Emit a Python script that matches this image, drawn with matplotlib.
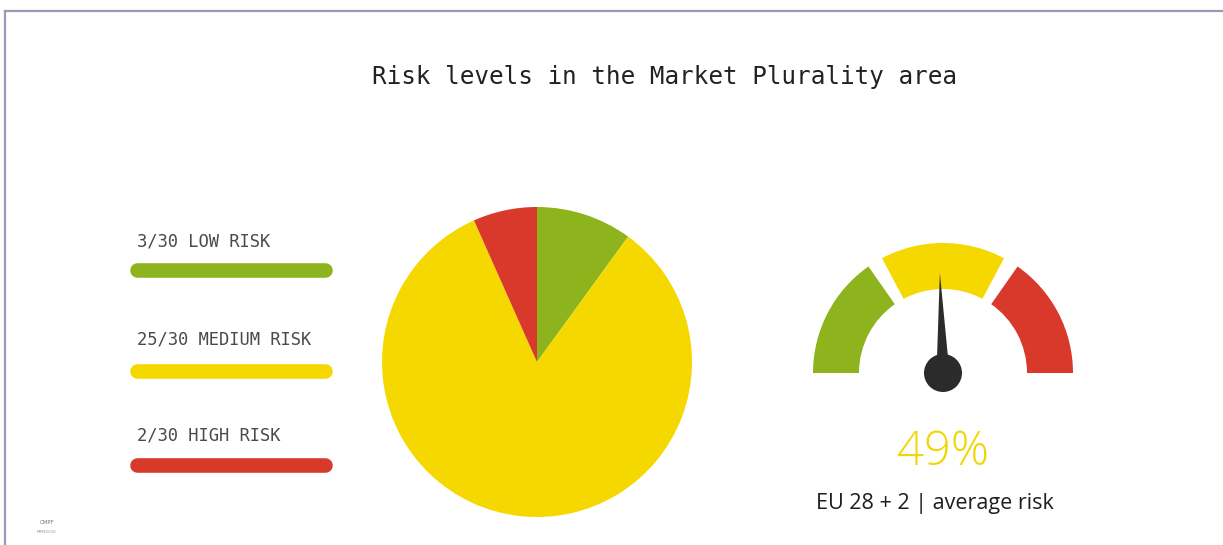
import matplotlib.pyplot as plt
from matplotlib.patches import Wedge, Circle, Polygon
import numpy as np

# risk distribution over the 30 indicators
categories = ["LOW RISK", "MEDIUM RISK", "HIGH RISK"]
counts = [3, 25, 2]
total = 30
colors = ["#8db41c", "#f5d800", "#d8392b"]

# gauge bands (degrees, 180 = left end) and average value
band_angles = [(125, 180), (62, 118), (0, 55)]
average_risk = 49

title = "Risk levels in the Market Plurality area"
subtitle = "EU 28 + 2 | average risk"

W, H = 1223, 545
fig = plt.figure(figsize=(W / 100, H / 100), dpi=100)
fig.patch.set_facecolor("white")

# base layer in pixel coordinates
ax = fig.add_axes([0, 0, 1, 1])
ax.set_xlim(0, W)
ax.set_ylim(H, 0)
ax.axis("off")

# frame lines
ax.plot([5, W], [11, 11], color="#959bb6", lw=1.6)
ax.plot([5, 5], [11, H], color="#959bb6", lw=1.6)

ax.text(664, 77, title, family="DejaVu Sans Mono", fontsize=17.5,
        color="#222222", ha="center", va="center")

# legend: label plus rounded bar for each category
label_y = [241, 340, 436]
bar_y = [270, 371, 465]
for cat, n, c, ly, by in zip(categories, counts, colors, label_y, bar_y):
    ax.text(137, ly, f"{n}/{total} {cat}", family="DejaVu Sans Mono",
            fontsize=12.3, color="#4a4a4a", ha="left", va="center")
    ax.plot([137, 325], [by, by], color=c, lw=10.5, solid_capstyle="round")

# small logo mark
ax.text(47, 522, "CMPF", fontsize=4, color="#777777", ha="center", va="center")
ax.text(47, 532, "MPM2016", fontsize=3, color="#999999", ha="center", va="center")

# pie
cx, cy, r = 537, 362, 155
pax = fig.add_axes([(cx - r) / W, (H - cy - r) / H, 2 * r / W, 2 * r / H])
pax.pie(counts, colors=colors, startangle=90, counterclock=False,
        wedgeprops=dict(linewidth=0))
pax.set_xlim(-1, 1)
pax.set_ylim(-1, 1)
pax.axis("off")

# gauge
gx, gy, gr = 943, 373, 150
gax = fig.add_axes([(gx - gr) / W, (H - gy - gr) / H, 2 * gr / W, 2 * gr / H])
gax.set_xlim(-gr, gr)
gax.set_ylim(-gr, gr)
gax.set_aspect("equal")
gax.axis("off")
outer, width = 130, 46
for (a0, a1), c in zip(band_angles, colors):
    gax.add_patch(Wedge((0, 0), outer, a0, a1, width=width, facecolor=c,
                        edgecolor="none"))

ang = np.deg2rad(180 - average_risk / 100 * 180)
tip = np.array([np.cos(ang), np.sin(ang)]) * 100
perp = np.array([-np.sin(ang), np.cos(ang)]) * 6.5
gax.add_patch(Polygon([perp, tip, -perp], closed=True, facecolor="#2b2b2b",
                      edgecolor="none"))
gax.add_patch(Circle((0, 0), 19, facecolor="#2b2b2b", edgecolor="none"))

ax.text(943, 453, f"{average_risk}%", family="Open Sans", fontweight="light",
        fontsize=34, color="#f2d600", ha="center", va="center")
ax.text(935, 503, subtitle, family="Open Sans", fontsize=15.5,
        color="#1e1e1e", ha="center", va="center")

fig.savefig("out.png", dpi=100, facecolor="white")
